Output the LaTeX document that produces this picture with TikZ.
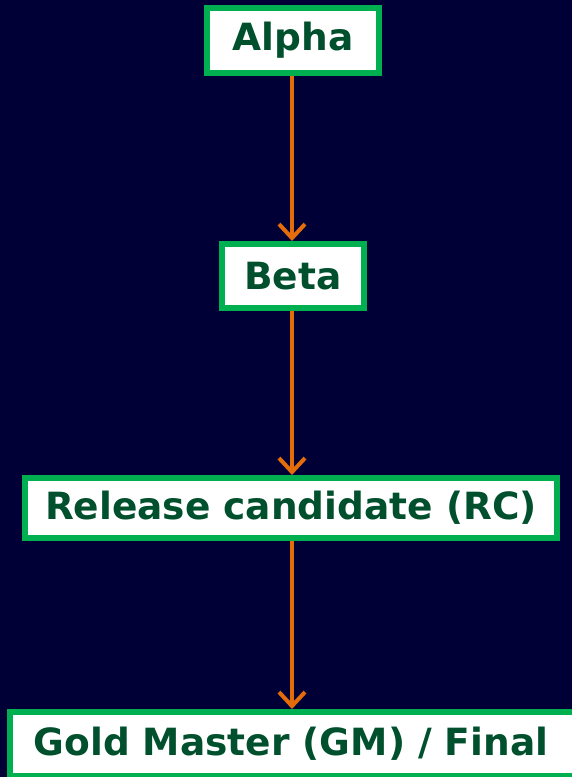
\documentclass[tikz,border=0pt]{standalone}
\usepackage{fontspec}
\setmainfont{DejaVu Sans}
\usetikzlibrary{arrows.meta,positioning}
\usepackage{xcolor}
\definecolor{navybg}{HTML}{000036}
\definecolor{stagegreen}{HTML}{00B050}
\definecolor{stagetext}{HTML}{00502D}
\definecolor{flow}{HTML}{E46C0A}

\begin{document}
\begin{tikzpicture}[x=1pt, y=-1pt,
  stage/.style={draw=stagegreen, line width=6pt, fill=white, text=stagetext,
    font=\fontsize{37.5}{44}\selectfont\bfseries, inner sep=0pt},
  flowarrow/.style={draw=flow, line width=4pt,
    -{Straight Barb[length=14pt, width=26pt, line width=4pt]}}
]
  % Background
  \fill[navybg] (0,0) rectangle (572,777);
  \useasboundingbox (0,0) rectangle (572,777);
  \clip (0,0) rectangle (572,777);

  % Nodes
  \node[stage, minimum width=172pt, minimum height=65pt] (alpha) at (293,40.5) {Alpha};
  \node[stage, minimum width=142pt, minimum height=64pt] (beta) at (293,276) {Beta};
  \node[stage, minimum width=532pt, minimum height=60pt] (rc) at (291,508) {Release candidate (RC)};
  \node[stage, minimum width=590pt, minimum height=64pt] (gm) at (305,744) {\hspace*{-28pt}Gold Master (GM) / Final};

  % Arrows
  \draw[flowarrow] (alpha.south -| 292,0) -- (beta.north -| 292,0);
  \draw[flowarrow] (beta.south -| 292,0) -- (rc.north -| 292,0);
  \draw[flowarrow] (rc.south -| 292,0) -- (gm.north -| 292,0);
\end{tikzpicture}
\end{document}
